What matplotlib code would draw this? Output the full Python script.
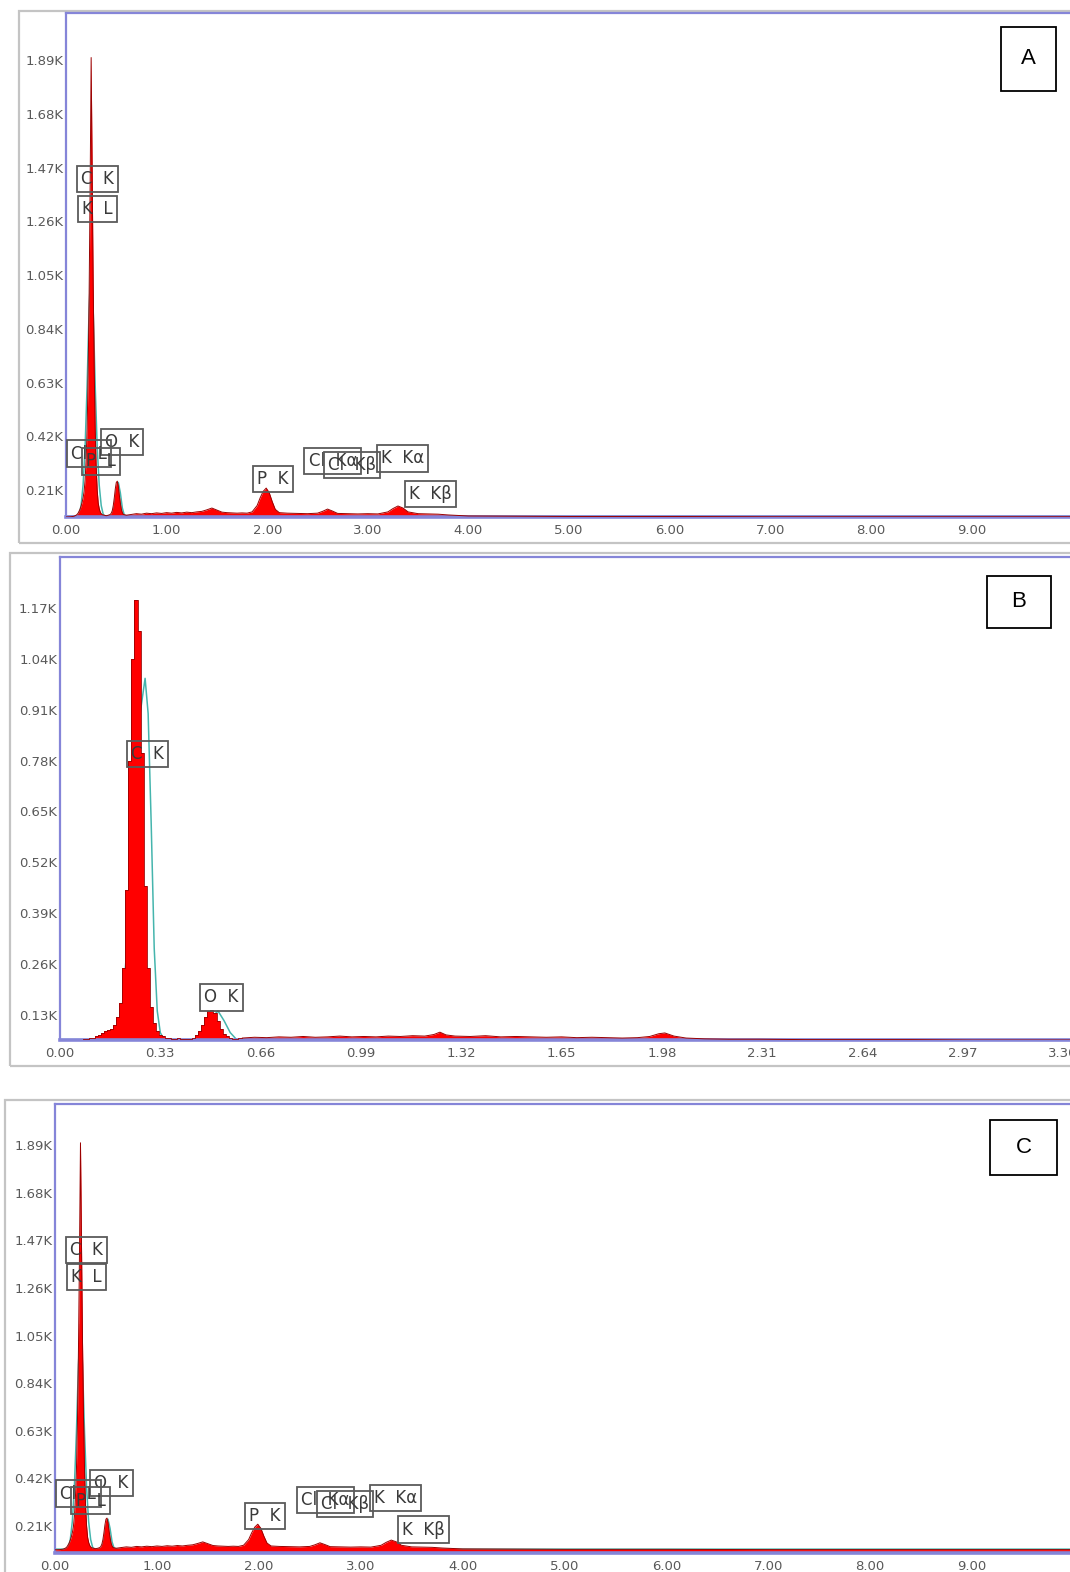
import matplotlib
matplotlib.use("Agg")
import matplotlib.pyplot as plt
from matplotlib.patches import Rectangle
from matplotlib.ticker import FixedLocator, FuncFormatter

W, H = 1070, 1572

# --- spectrum A / C (same acquisition): energy [keV], counts ---
A_ENERGY = [0.00, 0.05, 0.08, 0.10, 0.11, 0.12, 0.13, 0.14, 0.15, 0.16, 0.17, 0.18, 0.19,
            0.20, 0.21, 0.22, 0.23, 0.24, 0.25, 0.26, 0.27, 0.28, 0.29, 0.30, 0.31, 0.32,
            0.33, 0.34, 0.35, 0.36, 0.38, 0.40, 0.42, 0.44, 0.45, 0.46, 0.47, 0.48, 0.49,
            0.50, 0.51, 0.52, 0.53, 0.54, 0.55, 0.56, 0.57, 0.60, 0.65, 0.70, 0.75, 0.80,
            0.85, 0.90, 0.95, 1.00, 1.05, 1.10, 1.15, 1.20, 1.25, 1.30, 1.35, 1.40, 1.45,
            1.50, 1.55, 1.60, 1.65, 1.70, 1.75, 1.80, 1.85, 1.90, 1.93, 1.96, 1.99, 2.02,
            2.05, 2.08, 2.12, 2.20, 2.30, 2.40, 2.50, 2.55, 2.60, 2.65, 2.70, 2.80, 2.90,
            3.00, 3.10, 3.20, 3.25, 3.30, 3.35, 3.40, 3.50, 3.60, 3.70, 3.80, 3.90, 4.00,
            4.50, 5.00, 6.00, 7.00, 8.00, 9.00, 10.0]
A_COUNTS = [105, 106, 108, 112, 115, 120, 128, 136, 148, 162, 180, 205, 250,
            330, 450, 660, 980, 1400, 1900, 1450, 1020, 680, 450, 300, 210, 160,
            138, 125, 118, 114, 112, 110, 112, 115, 120, 130, 150, 180, 215,
            240, 245, 225, 190, 160, 135, 122, 115, 112, 115, 118, 116, 120,
            118, 121, 119, 122, 120, 123, 121, 124, 122, 125, 127, 133, 140,
            132, 124, 122, 121, 120, 121, 120, 125, 150, 180, 205, 218, 200,
            165, 135, 122, 120, 119, 118, 120, 127, 136, 128, 119, 118, 117,
            118, 117, 125, 138, 148, 140, 125, 118, 117, 116, 113, 111, 109,
            108, 107, 107, 106, 106, 106, 106]
A_FIT_ENERGY = [0.00, 0.10, 0.13, 0.15, 0.17, 0.19, 0.21, 0.23, 0.25, 0.27, 0.29, 0.31,
                0.33, 0.35, 0.37, 0.39, 0.42, 0.46, 0.48, 0.50, 0.52, 0.54, 0.56, 0.58,
                0.62, 10.0]
A_FIT_COUNTS = [108, 108, 115, 150, 230, 380, 620, 920, 1100, 920, 620, 380,
                230, 150, 115, 108, 108, 112, 150, 210, 240, 200, 140, 112, 108, 108]

# --- spectrum B: stepped channels over the C/O region, then the continuum ---
B_PEAK_ENERGY = [0.05, 0.06, 0.07, 0.08, 0.09, 0.10, 0.11, 0.12, 0.13, 0.14, 0.15, 0.16,
                 0.17, 0.18, 0.19, 0.20, 0.21, 0.22, 0.23, 0.24, 0.25, 0.26, 0.27, 0.28,
                 0.29, 0.30, 0.31, 0.32, 0.33, 0.34, 0.35, 0.36, 0.37, 0.38, 0.39, 0.40,
                 0.41, 0.42, 0.43, 0.44, 0.45, 0.46, 0.47, 0.48, 0.49, 0.50, 0.51, 0.52,
                 0.53, 0.54, 0.55, 0.56, 0.57, 0.58, 0.59, 0.60]
B_PEAK_COUNTS = [66, 66, 67, 69, 68, 70, 72, 75, 78, 85, 90, 92,
                 95, 105, 125, 160, 250, 450, 780, 1040, 1190, 1110, 800, 460,
                 250, 150, 110, 90, 80, 75, 72, 70, 69, 68, 70, 69,
                 68, 68, 69, 70, 78, 90, 105, 125, 140, 143, 135, 115,
                 95, 82, 75, 70, 69, 68, 70, 71]
B_BG_ENERGY = [0.60, 0.64, 0.68, 0.72, 0.76, 0.80, 0.84, 0.88, 0.92, 0.96, 1.00, 1.04,
               1.08, 1.12, 1.16, 1.20, 1.23, 1.25, 1.27, 1.30, 1.35, 1.40, 1.45, 1.50,
               1.55, 1.60, 1.65, 1.70, 1.75, 1.80, 1.85, 1.90, 1.94, 1.97, 1.99, 2.02,
               2.06, 2.12, 2.20, 2.30, 2.45, 2.60, 2.80, 3.00, 3.20, 3.40]
B_BG_COUNTS = [71, 73, 72, 74, 73, 75, 73, 74, 76, 74, 75, 74,
               76, 75, 77, 76, 80, 86, 79, 76, 75, 77, 74, 75,
               74, 73, 74, 72, 73, 72, 71, 72, 75, 82, 84, 76,
               71, 69, 68, 68, 67, 67, 67, 66, 66, 66]
B_FIT_ENERGY = [0.00, 0.18, 0.20, 0.22, 0.24, 0.26, 0.28, 0.29, 0.30, 0.31, 0.32, 0.33,
                0.34, 0.36, 0.44, 0.47, 0.50, 0.52, 0.54, 0.56, 0.58, 0.60, 3.40]
B_FIT_COUNTS = [67, 67, 100, 300, 600, 880, 990, 900, 620, 300, 140, 85,
                70, 67, 67, 85, 125, 140, 115, 85, 68, 67, 67]

# peak labels: (text, energy, counts)
A_LABELS = [("C  K", 0.31, 1426), ("K  L", 0.31, 1307), ("O  K", 0.556, 399),
            ("Cl  L", 0.23, 353), ("P  L", 0.348, 322), ("P  K", 2.06, 254),
            ("Cl  Kα", 2.652, 324), ("Cl  Kβ", 2.845, 307), ("K  Kα", 3.343, 334),
            ("K  Kβ", 3.62, 194)]
B_LABELS = [("C  K", 0.288, 796), ("O  K", 0.531, 175)]

AC_TICKS = [210, 420, 630, 840, 1050, 1260, 1470, 1680, 1890]
AC_XTICKS = [0, 1, 2, 3, 4, 5, 6, 7, 8, 9]
B_TICKS = [130, 260, 390, 520, 650, 780, 910, 1040, 1170]
B_XTICKS = [0.00, 0.33, 0.66, 0.99, 1.32, 1.65, 1.98, 2.31, 2.64, 2.97, 3.30]

SPINE = "#8585d8"
RED = "#ff0000"
EDGE = "#9a0000"
FIT = "#45b5ad"

# panel geometry in pixels: axes left/top/bottom, keV per px, y limits, outer frame, letter box
PANELS = [
    dict(data="A", left=66, top=13, bottom=517, kev_px=1 / 100.6, ylim=(105, 2074),
         frame=(19, 11, 543), letter="A", lbox=(1001, 27, 55, 64)),
    dict(data="B", left=60, top=557, bottom=1040, kev_px=0.33 / 100.3, ylim=(66, 1300),
         frame=(10, 553, 1066), letter="B", lbox=(987, 576, 64, 52)),
    dict(data="A", left=55, top=1104, bottom=1553, kev_px=1 / 101.9, ylim=(91, 2071),
         frame=(5, 1100, 1590), letter="C", lbox=(990, 1120, 67, 55)),
]


def kfmt(v, _pos):
    return f"{v / 1000:.2f}K"


def draw_panel(fig, p):
    ax = fig.add_axes([p["left"] / W, 1 - p["bottom"] / H,
                       (W - p["left"]) / W, (p["bottom"] - p["top"]) / H])
    y0 = p["ylim"][0] - 50
    if p["data"] == "A":
        labels, yt, xt = A_LABELS, AC_TICKS, AC_XTICKS
        ax.plot(A_FIT_ENERGY, A_FIT_COUNTS, color=FIT, lw=1.1, zorder=1)
        ax.fill_between(A_ENERGY, y0, A_COUNTS, color=RED, lw=0, zorder=2)
        ax.plot(A_ENERGY, A_COUNTS, color=EDGE, lw=0.7, zorder=3)
    else:
        labels, yt, xt = B_LABELS, B_TICKS, B_XTICKS
        ax.plot(B_FIT_ENERGY, B_FIT_COUNTS, color=FIT, lw=1.1, zorder=1)
        ax.fill_between(B_PEAK_ENERGY, y0, B_PEAK_COUNTS, color=RED, lw=0, step="mid",
                        zorder=2)
        ax.plot(B_PEAK_ENERGY, B_PEAK_COUNTS, color=EDGE, lw=0.6, zorder=3,
                drawstyle="steps-mid")
        ax.fill_between(B_BG_ENERGY, y0, B_BG_COUNTS, color=RED, lw=0, zorder=2)
        ax.plot(B_BG_ENERGY, B_BG_COUNTS, color=EDGE, lw=0.7, zorder=3)

    for txt, x, y in labels:
        ax.text(x, y, txt, ha="center", va="center", fontsize=12, color="#3a3a3a",
                family="DejaVu Sans", zorder=5,
                bbox=dict(boxstyle="square,pad=0.25", fc="none", ec="#5a5a5a", lw=1.3))

    ax.set_xlim(0, (W - p["left"]) * p["kev_px"])
    ax.set_ylim(*p["ylim"])
    ax.yaxis.set_major_locator(FixedLocator(yt))
    ax.yaxis.set_major_formatter(FuncFormatter(kfmt))
    ax.xaxis.set_major_locator(FixedLocator(xt))
    ax.xaxis.set_major_formatter(FuncFormatter(lambda v, _p: f"{v:.2f}"))
    ax.tick_params(length=0, labelsize=9.5, labelcolor="#595959", pad=2)
    ax.tick_params(axis="x", pad=5)
    ax.spines["right"].set_visible(False)
    for s in ("left", "top"):
        ax.spines[s].set_color(SPINE)
        ax.spines[s].set_linewidth(1.6)
    ax.spines["bottom"].set_color(SPINE)
    ax.spines["bottom"].set_linewidth(2.6)
    ax.set_facecolor("white")

    # outer window frame
    fl, ft, fb = p["frame"]
    fig.add_artist(Rectangle((fl / W, 1 - fb / H), (W + 20 - fl) / W, (fb - ft) / H,
                             transform=fig.transFigure, fill=False, ec="#c4c4c4", lw=1.6,
                             zorder=0))
    # panel letter
    bx, by, bw, bh = p["lbox"]
    fig.add_artist(Rectangle((bx / W, 1 - (by + bh) / H), bw / W, bh / H,
                             transform=fig.transFigure, fc="white", ec="black", lw=1.3,
                             zorder=10))
    fig.text((bx + bw / 2) / W, 1 - (by + bh / 2) / H, p["letter"], ha="center",
             va="center", fontsize=16, family="Liberation Sans", color="black", zorder=11)


def main():
    fig = plt.figure(figsize=(W / 100, H / 100), dpi=100)
    fig.patch.set_facecolor("white")
    for p in PANELS:
        draw_panel(fig, p)
    fig.savefig("out.png", dpi=100)


if __name__ == "__main__":
    main()
